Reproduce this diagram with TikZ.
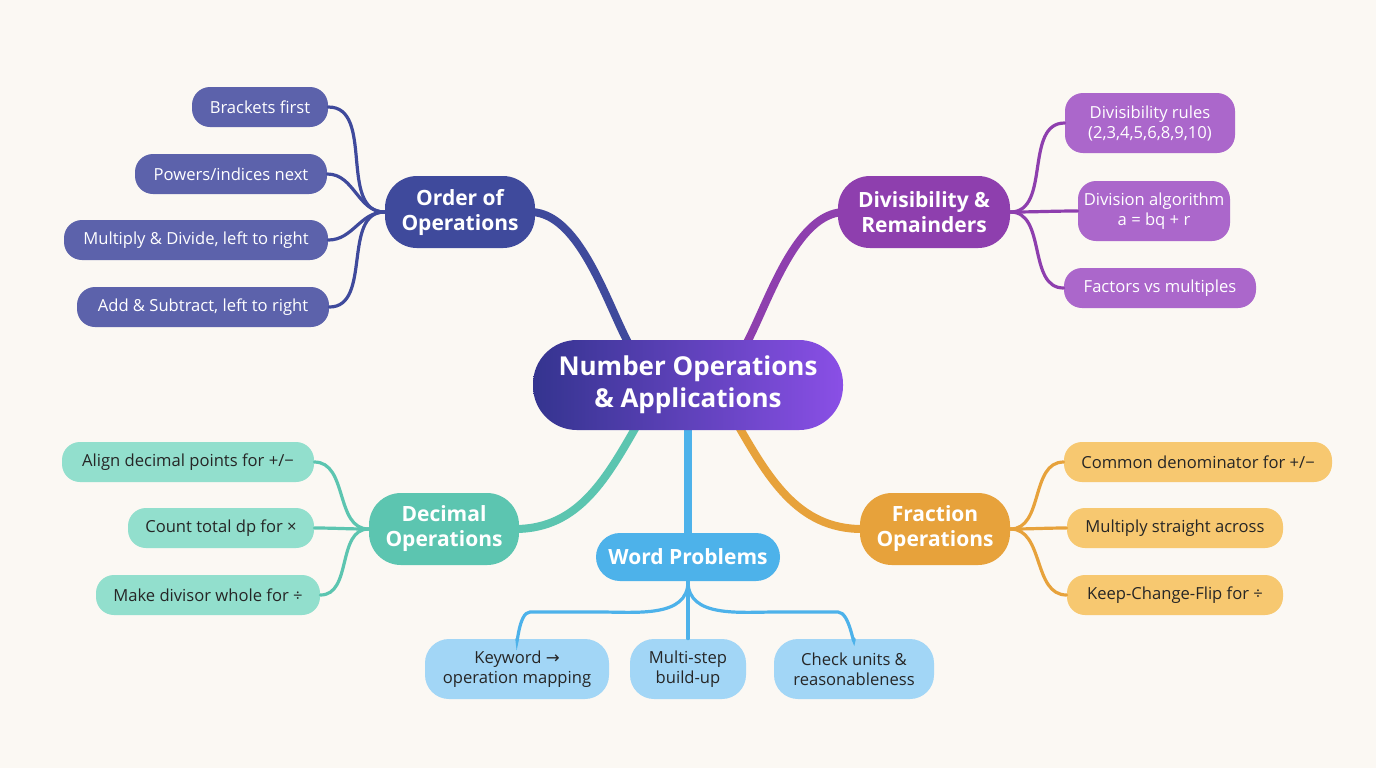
\documentclass[tikz,border=0pt]{standalone}
\usepackage{fontspec}
\setmainfont{Open Sans}
\newfontfamily\symf{DejaVu Sans}
\begin{document}
\begin{tikzpicture}[x=0.5pt,y=-0.5pt,
 box/.style={rounded corners=9pt,inner sep=0pt,align=center,font=\fontsize{8.3}{10}\selectfont},
 hub/.style={rounded corners=16pt,inner sep=0pt,align=center,text=white,font=\fontsize{10.5}{12.5}\selectfont\bfseries},
 lk/.style={line width=1.6pt,line cap=round}]
\definecolor{bg}{HTML}{FBF8F3}
\definecolor{ind}{HTML}{3F4A9C}\definecolor{indl}{HTML}{5C62AB}
\definecolor{pur}{HTML}{8E3FAE}\definecolor{purl}{HTML}{AB67CB}
\definecolor{tea}{HTML}{5CC5B0}\definecolor{teal}{HTML}{92DFCD}
\definecolor{ora}{HTML}{E7A23B}\definecolor{oral}{HTML}{F7C870}
\definecolor{blu}{HTML}{4DB2EA}\definecolor{blul}{HTML}{A2D6F6}
\definecolor{cl}{HTML}{34348F}\definecolor{cr}{HTML}{8A4FE6}
\fill[bg] (0,0) rectangle (1376,768);
% main branches
\draw[ind,line width=4pt,line cap=round] (660,350) to[out=-115,in=0] (530,212);
\draw[pur,line width=4pt,line cap=round] (715,350) to[out=-65,in=180] (845,212);
\draw[tea,line width=4pt,line cap=round] (640,420) to[out=-120,in=0] (515,529);
\draw[ora,line width=4pt,line cap=round] (735,420) to[out=-60,in=180] (862,529);
\draw[blu,line width=4pt,line cap=round] (688,420) -- (688,535);
% center
\shade[left color=cl,right color=cr,rounded corners=22pt] (533,340) rectangle (843,430);
\node[text=white,font=\fontsize{13}{16}\selectfont\bfseries,align=center] (c) at (688,385) {Number Operations\\\& Applications};
% hubs
\node[hub,fill=ind,minimum width=75pt,minimum height=36pt] (oo) at (460,212) {Order of\\Operations};
\node[hub,fill=pur,minimum width=86pt,minimum height=36pt] (dr) at (924,212) {Divisibility \&\\Remainders};
\node[hub,fill=tea,minimum width=75pt,minimum height=36pt] (de) at (444,529) {Decimal\\Operations};
\node[hub,fill=ora,minimum width=75pt,minimum height=36pt] (fr) at (935,529) {Fraction\\Operations};
\node[hub,fill=blu,minimum width=92pt,minimum height=24pt,rounded corners=12pt] (wp) at (688,557) {Word Problems};
% leaves order
\begin{scope}[every node/.style={box,fill=indl,text=white,minimum height=20pt}]
\node[minimum width=68pt] (o1) at (260,107) {Brackets first};
\node[minimum width=96pt] (o2) at (231,174) {Powers/indices next};
\node[minimum width=132pt] (o3) at (196,240) {Multiply \& Divide, left to right};
\node[minimum width=126pt] (o4) at (203,307) {Add \& Subtract, left to right};
\end{scope}
\foreach \n in {o1,o2,o3,o4}\draw[lk,ind] (oo.west) to[out=180,in=0] (\n.east);
\begin{scope}[every node/.style={box,fill=purl,text=white,minimum height=20pt}]
\node[minimum width=85pt,minimum height=30pt] (d1) at (1150,123) {Divisibility rules\\(2,3,4,5,6,8,9,10)};
\node[minimum width=76pt,minimum height=30pt] (d2) at (1154,211) {Division algorithm\\a = bq + r};
\node[minimum width=96pt] (d3) at (1160,288) {Factors vs multiples};
\end{scope}
\foreach \n in {d1,d2,d3}\draw[lk,pur] (dr.east) to[out=0,in=180] (\n.west);
\begin{scope}[every node/.style={box,fill=teal,text=black!85,minimum height=20pt}]
\node[minimum width=126pt] (e1) at (188,462) {Align decimal points for +/−};
\node[minimum width=93pt] (e2) at (221,528) {Count total dp for ×};
\node[minimum width=112pt] (e3) at (208,595) {Make divisor whole for ÷};
\end{scope}
\foreach \n in {e1,e2,e3}\draw[lk,tea] (de.west) to[out=180,in=0] (\n.east);
\begin{scope}[every node/.style={box,fill=oral,text=black!85,minimum height=20pt}]
\node[minimum width=134pt] (f1) at (1198,462) {Common denominator for +/−};
\node[minimum width=108pt] (f2) at (1175,528) {Multiply straight across};
\node[minimum width=108pt] (f3) at (1175,595) {Keep-Change-Flip for ÷};
\end{scope}
\foreach \n in {f1,f2,f3}\draw[lk,ora] (fr.east) to[out=0,in=180] (\n.west);
\begin{scope}[every node/.style={box,fill=blul,text=black!85,minimum height=30pt,rounded corners=12pt}]
\node[minimum width=92pt] (w1) at (517,669) {Keyword {\symf →}\\operation mapping};
\node[minimum width=58pt] (w2) at (688,669) {Multi-step\\build-up};
\node[minimum width=80pt] (w3) at (854,669) {Check units \&\\reasonableness};
\end{scope}
\draw[lk,blu] (wp.south) -- (w2.north);
\draw[lk,blu] (wp.south) to[out=-90,in=0] (600,612) -- (530,612) to[out=180,in=-90] (w1.north);
\draw[lk,blu] (wp.south) to[out=-90,in=180] (776,612) -- (838,612) to[out=0,in=-90] (w3.north);
\end{tikzpicture}
\end{document}
